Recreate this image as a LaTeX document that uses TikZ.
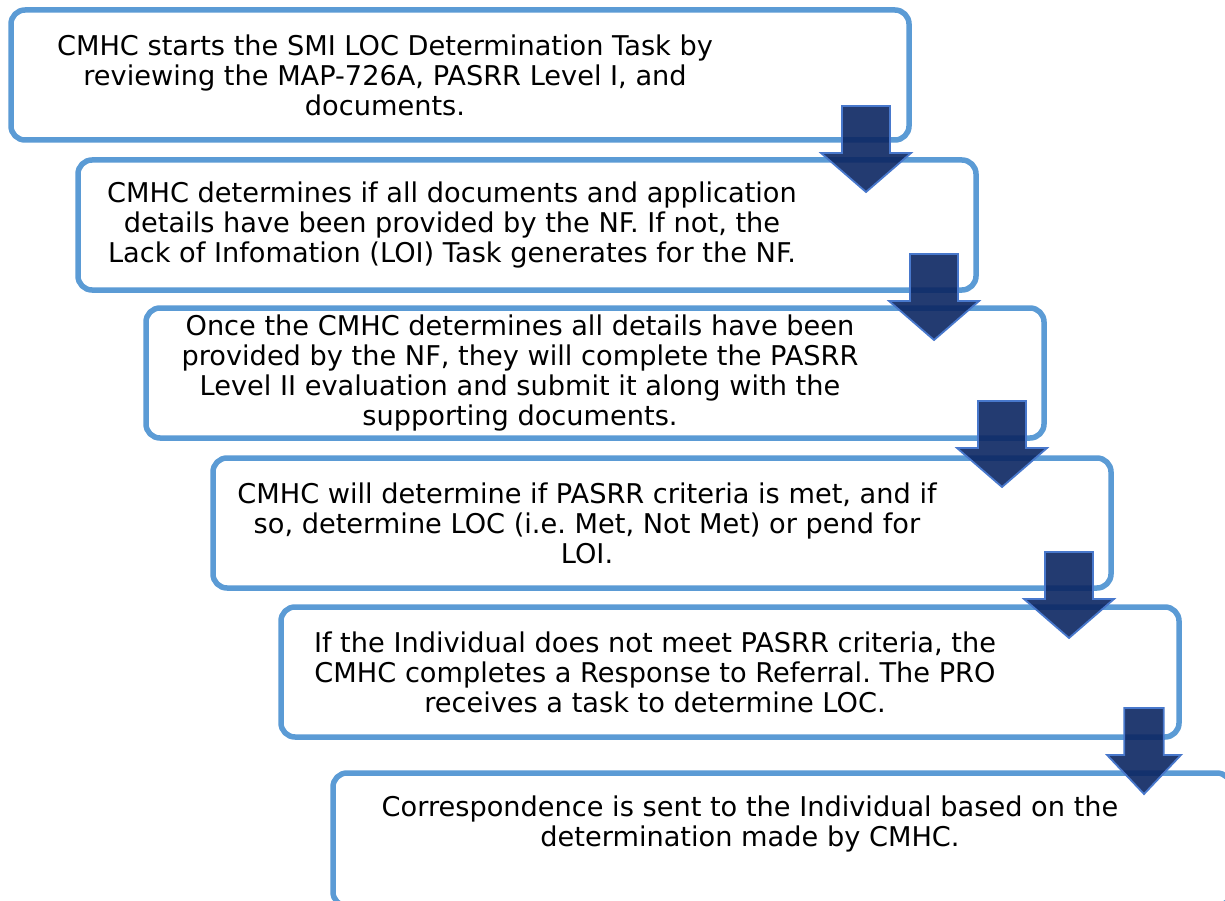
\documentclass[tikz,border=0pt]{standalone}
\usepackage{fontspec}
\setmainfont{DejaVu Sans}
\usetikzlibrary{positioning}

\definecolor{boxblue}{RGB}{91,155,213}
\definecolor{arrowfill}{RGB}{12,38,98}
\definecolor{arrowedge}{RGB}{72,120,204}

\begin{document}
\frenchspacing
\begin{tikzpicture}[
  x=1pt, y=-1pt,
  font=\fontsize{27.2}{30}\selectfont,
  %% step boxes
  stepbox/.style={
    draw=boxblue, fill=white, line width=5.5pt, rounded corners=14pt,
    minimum width=898pt, minimum height=130pt, inner sep=0pt,
    outer sep=0pt, anchor=north west
  },
  steptext/.style={
    align=center, inner sep=0pt, text=black
  },
  %% block arrow between two steps
  dnarrow/.pic={
    \filldraw[fill=arrowfill, fill opacity=0.9, draw=arrowedge,
              line width=1.8pt, line join=miter]
      (-24,0) -- (24,0) -- (24,47) -- (45,47) -- (0,86)
      -- (-45,47) -- (-24,47) -- cycle;
  },
]

\path[use as bounding box, fill=white] (0,0) rectangle (1225,901);
\clip (0,0) rectangle (1225,901);

%% ── STEP BOXES ─────────────────────────────────────────────
\node[stepbox] (s1) at (11,10)   {};
\node[stepbox] (s2) at (78,160)  {};
\node[stepbox] (s3) at (146,308) {};
\node[stepbox] (s4) at (213,458) {};
\node[stepbox] (s5) at (281,607) {};
\node[stepbox, minimum height=133pt] (s6) at (333,773) {};

%% ── STEP TEXTS ─────────────────────────────────────────────
\node[steptext] (t1) at ([xshift=-75pt]s1.center)
  {CMHC starts the SMI LOC Determination Task by\\
   reviewing the MAP-726A, PASRR Level I, and\\
   documents.};
\node[steptext] (t2) at ([xshift=-75pt]s2.center)
  {CMHC determines if all documents and application\\
   details have been provided by the NF. If not, the\\
   Lack of Infomation (LOI) Task generates for the NF.};
\node[steptext] (t3) at ([xshift=-75pt]s3.center)
  {Once the CMHC determines all details have been\\
   provided by the NF, they will complete the PASRR\\
   Level II evaluation and submit it along with the\\
   supporting documents.};
\node[steptext] (t4) at ([xshift=-75pt]s4.center)
  {CMHC will determine if PASRR criteria is met, and if\\
   so, determine LOC (i.e. Met, Not Met) or pend for\\
   LOI.};
\node[steptext] (t5) at ([xshift=-75pt]s5.center)
  {If the Individual does not meet PASRR criteria, the\\
   CMHC completes a Response to Referral. The PRO\\
   receives a task to determine LOC.};
\node[steptext] (t6) at ([xshift=-32pt, yshift=16pt]s6.center)
  {Correspondence is sent to the Individual based on the\\
   determination made by CMHC.};

%% ── ARROWS ─────────────────────────────────────────────────
\path ([xshift=-43pt, yshift=34pt]s1.south east) pic {dnarrow};
\path ([xshift=-42pt, yshift=36pt]s2.south east) pic {dnarrow};
\path ([xshift=-42pt, yshift=37pt]s3.south east) pic {dnarrow};
\path ([xshift=-42pt, yshift=36pt]s4.south east) pic {dnarrow};
%% last one is narrower
\path ([xshift=-35pt, yshift=29pt]s5.south east) pic[xscale=0.82] {dnarrow};

\end{tikzpicture}
\end{document}
